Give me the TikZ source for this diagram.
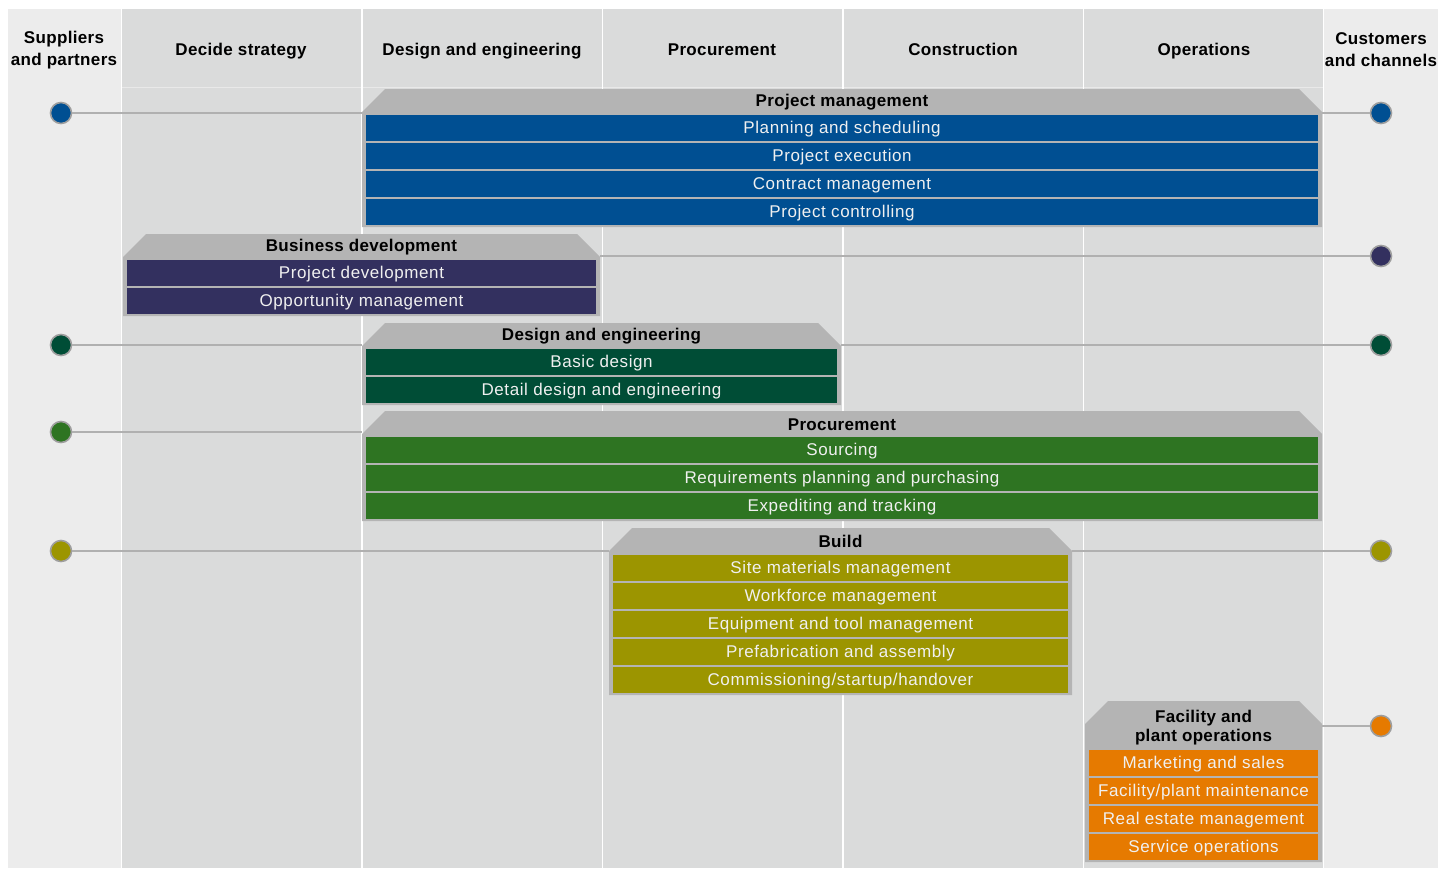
\documentclass[tikz,border=0pt]{standalone}
\usepackage{fontspec}
\setmainfont{Liberation Sans}
\newfontfamily\rowfam[LetterSpace=3.5]{Liberation Sans}
\newfontfamily\hdrfam[LetterSpace=2]{Liberation Sans}

\definecolor{sidegray}{HTML}{ECECEC}
\definecolor{midgray}{HTML}{DADBDB}
\definecolor{boxgray}{HTML}{B4B4B4}
\definecolor{linegray}{HTML}{B0B0B0}
\definecolor{pmblue}{HTML}{004F92}
\definecolor{bdnavy}{HTML}{33305F}
\definecolor{degreen}{HTML}{004D36}
\definecolor{prgreen}{HTML}{2E7422}
\definecolor{buolive}{HTML}{9C9500}
\definecolor{fporange}{HTML}{E67A00}

\newcommand{\rowfont}{\rowfam\fontsize{17}{19}\selectfont}
\newcommand{\hdrfont}{\hdrfam\fontsize{17}{19}\selectfont\bfseries}
\newcommand{\titlefont}{\hdrfam\fontsize{17}{22}\selectfont\bfseries}

% gray block with cut top corners: x1, x2, top, bottom
\newcommand{\chamferbox}[4]{%
  \fill[boxgray] (#1,#4) -- (#1,#3+23) -- (#1+23,#3) -- (#2-23,#3) -- (#2,#3+23) -- (#2,#4) -- cycle;}

\tikzset{
  row/.style={minimum height=26pt, inner sep=0pt, text height=12pt, text depth=0.5pt,
    text=white!94!black, font=\rowfont},
  hdr/.style={inner sep=0pt, font=\hdrfont, align=center},
  coltitle/.style={inner sep=0pt, font=\titlefont, align=center},
  dot/.style={circle, minimum size=21pt, inner sep=0pt, draw=linegray!90!black, line width=1.6pt},
  link/.style={draw=linegray, line width=1.6pt}
}

\begin{document}
\begin{tikzpicture}[x=1pt, y=-1pt]
  \useasboundingbox (0,0) rectangle (1448,868);
  \fill[white] (0,0) rectangle (1448,868);

  % Columns
  \fill[sidegray] (8,9) rectangle (121,868);
  \fill[sidegray] (1324,9) rectangle (1438,868);
  \fill[midgray] (122,9) rectangle (1323,868);
  \draw[white!40!midgray, line width=0.8pt] (122,87) -- (1323,87);
  \foreach \x in {121.5, 362, 602.5, 843, 1083.5, 1323.5}
    \draw[white, line width=1.5pt] (\x,9) -- (\x,868);

  % Column titles
  \node[coltitle] (tsup) at (64,50) {Suppliers\\and partners};
  \node[coltitle, anchor=base] (tstr) at (241,55) {Decide strategy};
  \node[coltitle, anchor=base] (tdes) at (482,55) {Design and engineering};
  \node[coltitle, anchor=base] (tpro) at (722,55) {Procurement};
  \node[coltitle, anchor=base] (tcon) at (963,55) {Construction};
  \node[coltitle, anchor=base] (tope) at (1204,55) {Operations};
  \node[coltitle] (tcus) at (1381,50) {Customers\\and channels};

  % Project management
  \chamferbox{362}{1322}{89}{227}
  \node[hdr] (pm) at (842,102.5) {Project management};
  \node[row, fill=pmblue, minimum width=952pt] (pm1) at (842,128) {Planning and scheduling};
  \node[row, fill=pmblue, minimum width=952pt] (pm2) at (842,156) {Project execution};
  \node[row, fill=pmblue, minimum width=952pt] (pm3) at (842,184) {Contract management};
  \node[row, fill=pmblue, minimum width=952pt] (pm4) at (842,212) {Project controlling};
  \coordinate (pmL) at (362,113);
  \coordinate (pmR) at (1322,113);

  % Business development
  \chamferbox{123}{600}{234}{316}
  \node[hdr] (bd) at (361.5,247.5) {Business development};
  \node[row, fill=bdnavy, minimum width=469pt] (bd1) at (361.5,273) {Project development};
  \node[row, fill=bdnavy, minimum width=469pt] (bd2) at (361.5,301) {Opportunity management};
  \coordinate (bdR) at (600,256);

  % Design and engineering
  \chamferbox{362}{841}{323}{405}
  \node[hdr] (de) at (601.5,336.5) {Design and engineering};
  \node[row, fill=degreen, minimum width=471pt] (de1) at (601.5,362) {Basic design};
  \node[row, fill=degreen, minimum width=471pt] (de2) at (601.5,390) {Detail design and engineering};
  \coordinate (deL) at (362,345);
  \coordinate (deR) at (841,345);

  % Procurement
  \chamferbox{362}{1322}{411}{521}
  \node[hdr] (pr) at (842,424.5) {Procurement};
  \node[row, fill=prgreen, minimum width=952pt] (pr1) at (842,450) {Sourcing};
  \node[row, fill=prgreen, minimum width=952pt] (pr2) at (842,478) {Requirements planning and purchasing};
  \node[row, fill=prgreen, minimum width=952pt] (pr3) at (842,506) {Expediting and tracking};
  \coordinate (prL) at (362,432);

  % Build
  \chamferbox{609}{1072}{528}{695}
  \node[hdr] (bu) at (840.5,541) {Build};
  \node[row, fill=buolive, minimum width=455pt] (bu1) at (840.5,568) {Site materials management};
  \node[row, fill=buolive, minimum width=455pt] (bu2) at (840.5,596) {Workforce management};
  \node[row, fill=buolive, minimum width=455pt] (bu3) at (840.5,624) {Equipment and tool management};
  \node[row, fill=buolive, minimum width=455pt] (bu4) at (840.5,652) {Prefabrication and assembly};
  \node[row, fill=buolive, minimum width=455pt] (bu5) at (840.5,680) {Commissioning/startup/handover};
  \coordinate (buL) at (609,551);
  \coordinate (buR) at (1072,551);

  % Facility and plant operations
  \chamferbox{1085}{1322}{701}{862}
  \node[hdr] (fp) at (1203.5,728) {Facility and\\plant operations};
  \node[row, fill=fporange, minimum width=229pt] (fp1) at (1203.5,763) {Marketing and sales};
  \node[row, fill=fporange, minimum width=229pt] (fp2) at (1203.5,791) {Facility/plant maintenance};
  \node[row, fill=fporange, minimum width=229pt] (fp3) at (1203.5,819) {Real estate management};
  \node[row, fill=fporange, minimum width=229pt] (fp4) at (1203.5,847) {Service operations};
  \coordinate (fpR) at (1322,726);

  % Dots on both sides
  \node[dot, fill=pmblue] (sup1) at (61,113) {};
  \node[dot, fill=pmblue] (cus1) at (1381,113) {};
  \node[dot, fill=bdnavy] (cus2) at (1381,256) {};
  \node[dot, fill=degreen] (sup3) at (61,345) {};
  \node[dot, fill=degreen] (cus3) at (1381,345) {};
  \node[dot, fill=prgreen] (sup4) at (61,432) {};
  \node[dot, fill=buolive] (sup5) at (61,551) {};
  \node[dot, fill=buolive] (cus5) at (1381,551) {};
  \node[dot, fill=fporange] (cus6) at (1381,726) {};

  % Links
  \draw[link] (sup1) -- (pmL);
  \draw[link] (pmR) -- (cus1);
  \draw[link] (bdR) -- (cus2);
  \draw[link] (sup3) -- (deL);
  \draw[link] (deR) -- (cus3);
  \draw[link] (sup4) -- (prL);
  \draw[link] (sup5) -- (buL);
  \draw[link] (buR) -- (cus5);
  \draw[link] (fpR) -- (cus6);
\end{tikzpicture}
\end{document}
